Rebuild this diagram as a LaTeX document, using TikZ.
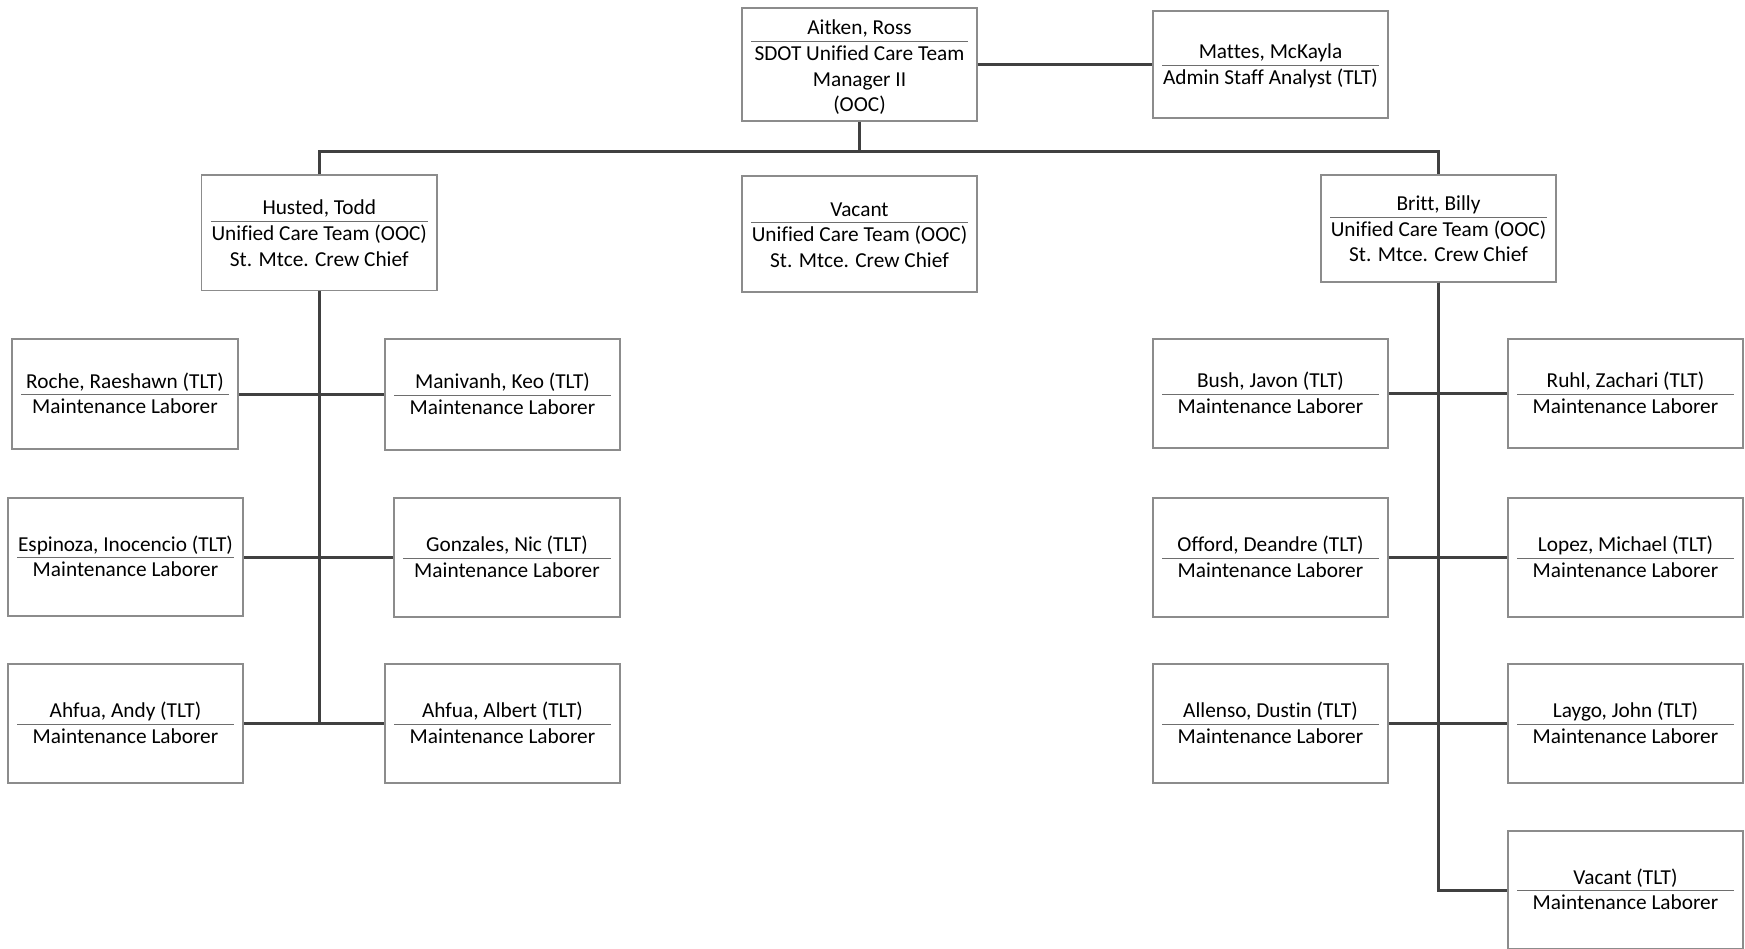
\documentclass[tikz,border=0pt]{standalone}
\usepackage{fontspec}
\setmainfont{Carlito}[Ligatures={NoCommon}]
\usetikzlibrary{calc}
\definecolor{boxc}{HTML}{8C8C8C}
\definecolor{linkc}{HTML}{404040}
\definecolor{sepc}{HTML}{6E6E6E}
\tikzset{
  obox/.style={draw=boxc, line width=1.4pt, fill=white, rectangle, inner sep=0pt},
  otext/.style={inner sep=0pt, font=\fontsize{21.3}{25.6}\selectfont, text=black},
  sepline/.style={draw=sepc, line width=1.1pt},
  link/.style={draw=linkc, line width=3pt}
}
% #1 id, #2 x1, #3 y1, #4 x2, #5 y2, #6 number of lines, #7 lines
\newcommand\obox[7]{%
  \node[obox, minimum width={#4-#2}, minimum height={#5-#3}] (#1) at ({(#2+#4)/2},{(#3+#5)/2}) {};
  \foreach \t [count=\k from 0] in {#7} {
    \node[otext, anchor=base] (#1-\k) at ($(#1.center)+(0,{(\k-(#6-1)/2)*25.6+6.8+1.0*(#6-2)})$) {\t};
  }
  \draw[sepline] ($(#1.west)+(10,{-(#6-1)/2*25.6+13.5+1.0*(#6-2)})$) -- ($(#1.east)+(-10,{-(#6-1)/2*25.6+13.5+1.0*(#6-2)})$);
}
\begin{document}
\begin{tikzpicture}[x=1pt,y=-1pt]
\useasboundingbox[fill=white] (0,0) rectangle (1745,948);
\begin{scope}
\clip (0,0) rectangle (1745,948);
% top level
\obox{aitken}{742}{8}{977}{121}{4}{{Aitken, Ross},{SDOT Unified Care Team},{Manager II},{(OOC)}}
\obox{mattes}{1153}{11}{1388}{118}{2}{{Mattes, McKayla},{Admin Staff Analyst (TLT)}}
% second level
\obox{husted}{201.5}{175}{437}{290.5}{3}{{Husted, Todd},{Unified Care Team (OOC)},{St. Mtce. Crew Chief}}
\obox{vacant}{742}{176}{977}{292}{3}{{Vacant},{Unified Care Team (OOC)},{St. Mtce. Crew Chief}}
\obox{britt}{1321}{175}{1556}{282}{3}{{Britt, Billy},{Unified Care Team (OOC)},{St. Mtce. Crew Chief}}
% left group
\obox{roche}{12}{339}{238}{449}{2}{{Roche, Raeshawn (TLT)},{Maintenance Laborer}}
\obox{manivanh}{385}{339}{620}{450}{2}{{Manivanh, Keo (TLT)},{Maintenance Laborer}}
\obox{espinoza}{8}{498}{243}{616}{2}{{Espinoza, Inocencio (TLT)},{Maintenance Laborer}}
\obox{gonzales}{394}{498}{620}{617}{2}{{Gonzales, Nic (TLT)},{Maintenance Laborer}}
\obox{andy}{8}{664}{243}{783}{2}{{Ahfua, Andy (TLT)},{Maintenance Laborer}}
\obox{albert}{385}{664}{620}{783}{2}{{Ahfua, Albert (TLT)},{Maintenance Laborer}}
% right group
\obox{bush}{1153}{339}{1388}{448}{2}{{Bush, Javon (TLT)},{Maintenance Laborer}}
\obox{ruhl}{1508}{339}{1743}{448}{2}{{Ruhl, Zachari (TLT)},{Maintenance Laborer}}
\obox{offord}{1153}{498}{1388}{617}{2}{{Offord, Deandre (TLT)},{Maintenance Laborer}}
\obox{lopez}{1508}{498}{1743}{617}{2}{{Lopez, Michael (TLT)},{Maintenance Laborer}}
\obox{allenso}{1153}{664}{1388}{783}{2}{{Allenso, Dustin (TLT)},{Maintenance Laborer}}
\obox{laygo}{1508}{664}{1743}{783}{2}{{Laygo, John (TLT)},{Maintenance Laborer}}
\obox{vactlt}{1508}{831}{1743}{949}{2}{{Vacant (TLT)},{Maintenance Laborer}}
% connectors
\draw[link] (aitken.east) -- (mattes.west);
\coordinate (bus) at ($(aitken.south)+(0,29.5)$);
\draw[link] (aitken.south) -- (bus);
\draw[link] (husted.north) -- (husted.north |- bus) -- (britt.north |- bus) -- (britt.north);
\foreach \c in {roche,espinoza,andy}{\draw[link] (husted.south) |- (\c.east);}
\foreach \c in {manivanh,gonzales,albert}{\draw[link] (husted.south) |- (\c.west);}
\foreach \c in {bush,offord,allenso}{\draw[link] (britt.south) |- (\c.east);}
\foreach \c in {ruhl,lopez,laygo,vactlt}{\draw[link] (britt.south) |- (\c.west);}
\end{scope}
\end{tikzpicture}
\end{document}
